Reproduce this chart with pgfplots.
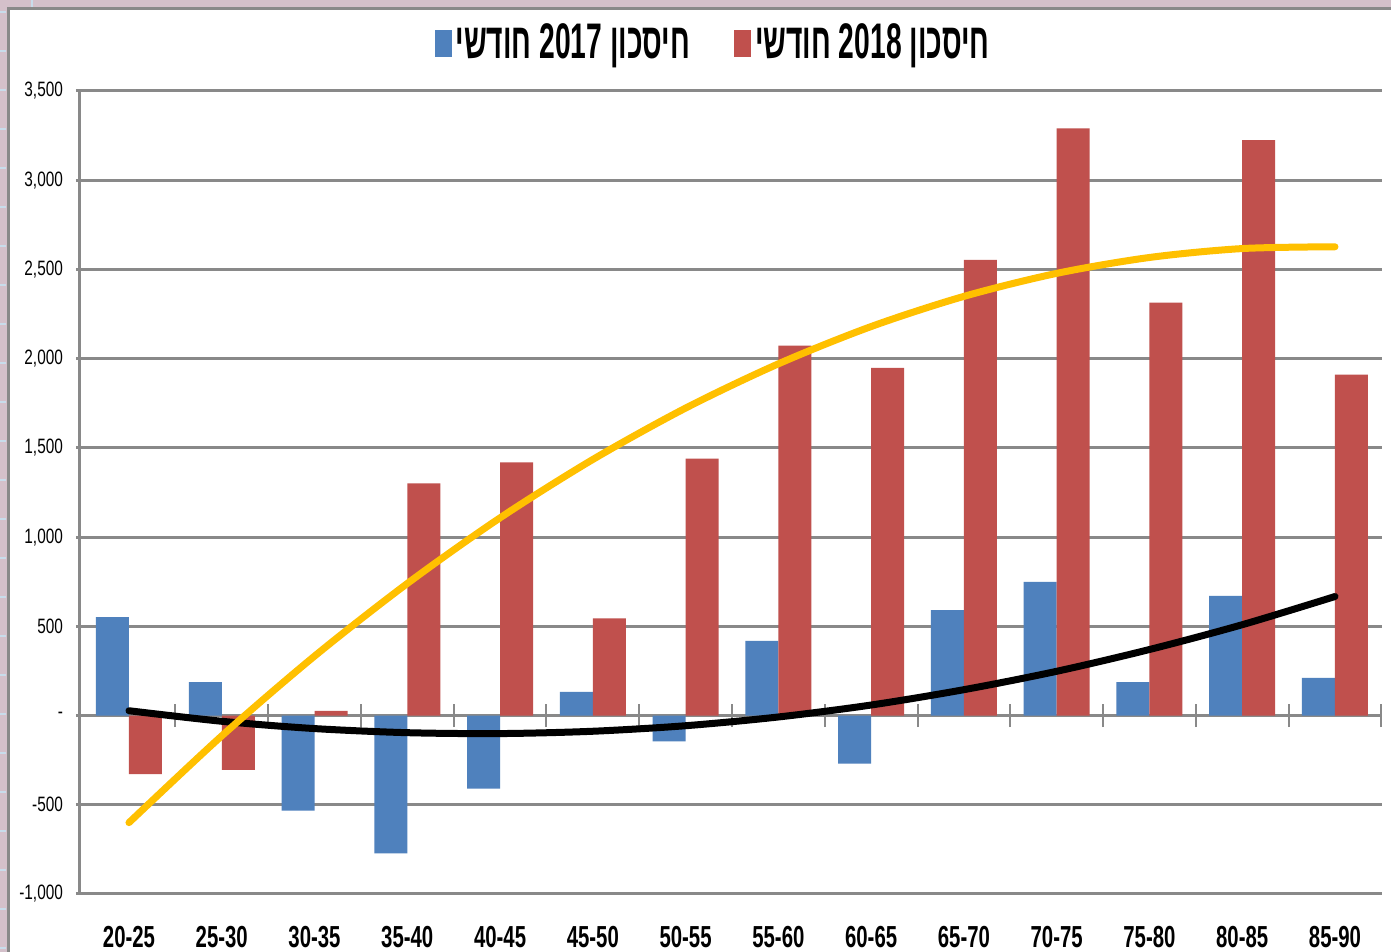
\documentclass[border=0pt]{standalone}
\usepackage{pgfplots}
\pgfplotsset{compat=1.18}
\usepackage{fontspec}
\setmainfont{Liberation Sans}
\newfontfamily\ylabfont{Liberation Sans}[FakeStretch=0.74]
\newfontfamily\xlabfont{Liberation Sans}[FakeStretch=0.67]
\newfontfamily\legfont{Liberation Sans}[Script=Hebrew,FakeStretch=0.565]
\TeXXeTstate=1
\definecolor{barblue}{RGB}{79,129,189}
\definecolor{barred}{RGB}{192,80,77}
\definecolor{trendyellow}{RGB}{255,192,0}
\definecolor{gridgray}{RGB}{137,137,137}
\definecolor{framepink}{RGB}{212,192,202}
\definecolor{dashblue}{RGB}{200,220,235}
\begin{document}
\begin{tikzpicture}
\fill[framepink] (0pt,0pt) rectangle (695.5pt,476pt);
\foreach \k in {0,...,24} { \fill[dashblue] (0pt,{470.5pt-19.5pt*\k}) rectangle ++(3pt,-1pt); }
\fill[dashblue] (15.5pt,476pt) rectangle ++(1pt,-3.5pt);
\fill[white] (4pt,0pt) rectangle (695.5pt,471.75pt);
\draw[gridgray, line width=1.5pt] (4pt,0pt) -- (4pt,471.75pt) -- (695.5pt,471.75pt);
\begin{axis}[
  at={(40pt,29pt)}, anchor=south west,
  scale only axis, width=651pt, height=401.5pt,
  xmin=-0.528, xmax=13.507, ymin=-1000, ymax=3500,
  ytick={-1000,-500,...,3500},
  yticklabels={{-1,000},{-500},{-},{500},{1,000},{1,500},{2,000},{2,500},{3,000},{3,500}},
  xtick={0,...,13},
  xticklabels={20-25,25-30,30-35,35-40,40-45,45-50,50-55,55-60,60-65,65-70,70-75,75-80,80-85,85-90},
  ymajorgrids, grid style={gridgray, line width=1.5pt},
  axis lines*=left, axis line style={-},
  x axis line style={draw=none},
  y axis line style={gridgray, line width=1.5pt},
  tick align=outside, major tick length=2pt,
  ytick style={gridgray, line width=1.5pt},
  xtick style={draw=none},
  yticklabel style={font=\ylabfont\fontsize{10.4pt}{11pt}\selectfont, xshift=-3pt},
  xticklabel style={font=\xlabfont\bfseries\fontsize{15.2pt}{16pt}\selectfont, yshift=-10.5pt},
  legend style={at={(0.487,1)}, anchor=center, yshift=24pt, draw=none, fill=none,
    font=\legfont\bfseries\fontsize{25pt}{26pt}\selectfont},
  legend columns=2,
  legend cell align=left,
  /tikz/every even column/.append style={column sep=20pt},
]
\pgfplotsinvokeforeach{0.5,1.5,2.5,3.5,4.5,5.5,6.5,7.5,8.5,9.5,10.5,11.5,12.5,13.5}{
  \draw[gridgray, line width=1pt] (axis cs:#1,0) ++(0pt,-5.75pt) -- ++(0pt,11.5pt);
}
\addplot[ybar, bar width=16.5pt, bar shift=-8.25pt, fill=barblue, draw=none,
  legend image code/.code={\fill[barblue] (-1pt,-7pt) rectangle (7.5pt,6.5pt);}]
  coordinates {(0,552) (1,187) (2,-533) (3,-773) (4,-410) (5,132) (6,-145)
               (7,418) (8,-270) (9,591) (10,749) (11,187) (12,671) (13,211)};
\addlegendentry{\beginR חיסכון \beginL 2017\endL{} חודשי\endR}
\addplot[ybar, bar width=16.5pt, bar shift=8.25pt, fill=barred, draw=none,
  legend image code/.code={\fill[barred] (-1pt,-7pt) rectangle (7.5pt,6.5pt);}]
  coordinates {(0,-328) (1,-304) (2,26) (3,1301) (4,1419) (5,545) (6,1440)
               (7,2073) (8,1948) (9,2554) (10,3291) (11,2314) (12,3224) (13,1911)};
\addlegendentry{\beginR חיסכון \beginL 2018\endL{} חודשי\endR}
\addplot[black, line width=3.5pt, smooth, line cap=round, forget plot]
  coordinates {(0,27) (1,-32) (2,-73) (3,-96) (4,-101) (5,-88) (6,-57)
               (7,-8) (8,59) (9,145) (10,248) (11,370) (12,509) (13,667)};
\addplot[trendyellow, line width=3.5pt, smooth, line cap=round, forget plot]
  coordinates {(0,-600) (1,-114) (2,333) (3,740) (4,1108) (5,1435) (6,1723)
               (7,1971) (8,2180) (9,2349) (10,2478) (11,2567) (12,2617) (13,2627)};
\end{axis}
\pgfresetboundingbox
\useasboundingbox (0pt,0pt) rectangle (695.5pt,476pt);
\end{tikzpicture}
\end{document}
